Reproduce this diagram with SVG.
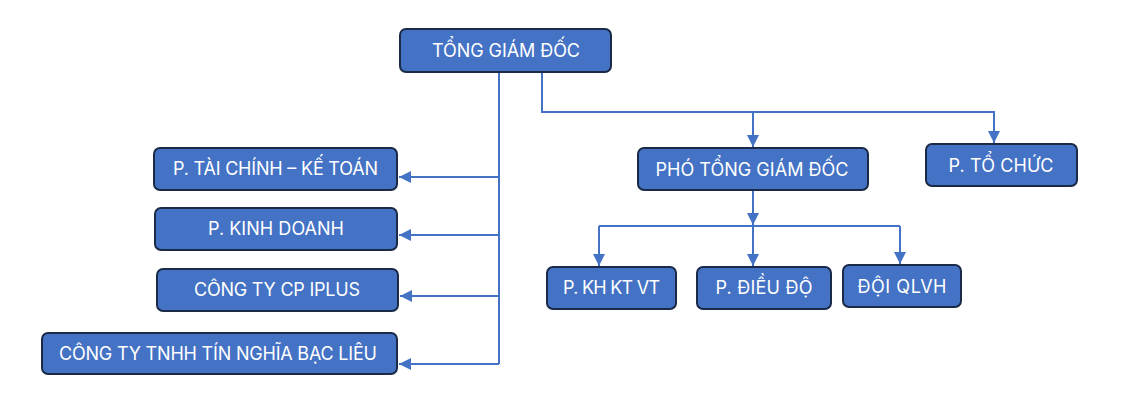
<svg xmlns="http://www.w3.org/2000/svg" width="1138" height="420" viewBox="0 0 1138 420">
<style>
.box{fill:#4472C4;stroke:#1B2A47;stroke-width:2}
.lbl{fill:#FFFFFF;font-family:Inter,"Noto Sans","Liberation Sans",sans-serif;font-size:18px;text-anchor:middle}
.ln{fill:none;stroke:#4472C4;stroke-width:2}
</style>
<defs>
<marker id="ah" markerUnits="userSpaceOnUse" markerWidth="12" markerHeight="12" viewBox="0 0 10 10" refX="10" refY="5" orient="auto">
<path d="M0,0 L10,5 L0,10 z" fill="#4472C4"/>
</marker>
</defs>
<rect width="1138" height="420" fill="#FFFFFF"/>
<g id="connectors">
<path class="ln" d="M499,72 V364"/>
<path class="ln" d="M499,177 H399" marker-end="url(#ah)"/>
<path class="ln" d="M499,235 H399" marker-end="url(#ah)"/>
<path class="ln" d="M499,296 H400" marker-end="url(#ah)"/>
<path class="ln" d="M499,364 H399" marker-end="url(#ah)"/>
<path class="ln" d="M542,72 V112 H994 V143" marker-end="url(#ah)"/>
<path class="ln" d="M753,112 V147" marker-end="url(#ah)"/>
<path class="ln" d="M753,190 V225" marker-end="url(#ah)"/>
<path class="ln" d="M599,226 H900"/>
<path class="ln" d="M599,226 V266" marker-end="url(#ah)"/>
<path class="ln" d="M753,226 V266" marker-end="url(#ah)"/>
<path class="ln" d="M900,226 V264" marker-end="url(#ah)"/>
</g>
<g id="tong-giam-doc">
<rect class="box" x="400" y="29" width="211" height="43" rx="6"/>
<text class="lbl" x="506" y="57" textLength="148">TỔNG GIÁM ĐỐC</text>
</g>
<g id="p-tai-chinh">
<rect class="box" x="154" y="148" width="243" height="42" rx="6"/>
<text class="lbl" x="275.5" y="175" textLength="205">P. TÀI CHÍNH – KẾ TOÁN</text>
</g>
<g id="p-kinh-doanh">
<rect class="box" x="155" y="208" width="242" height="42" rx="6"/>
<text class="lbl" x="276" y="235" textLength="136">P. KINH DOANH</text>
</g>
<g id="cong-ty-iplus">
<rect class="box" x="157" y="269" width="241" height="42" rx="6"/>
<text class="lbl" x="277" y="296" textLength="166">CÔNG TY CP IPLUS</text>
</g>
<g id="cong-ty-tin-nghia">
<rect class="box" x="42" y="333" width="355" height="41" rx="6"/>
<text class="lbl" x="218" y="360" textLength="318">CÔNG TY TNHH TÍN NGHĨA BẠC LIÊU</text>
</g>
<g id="pho-tong-giam-doc">
<rect class="box" x="638" y="148" width="230" height="42" rx="6"/>
<text class="lbl" x="752" y="176" textLength="193">PHÓ TỔNG GIÁM ĐỐC</text>
</g>
<g id="p-to-chuc">
<rect class="box" x="926" y="144" width="151" height="42" rx="6"/>
<text class="lbl" x="1001" y="172" textLength="105">P. TỔ CHỨC</text>
</g>
<g id="p-kh-kt-vt">
<rect class="box" x="547" y="267" width="129" height="42" rx="6"/>
<text class="lbl" x="611.5" y="294" textLength="97">P. KH KT VT</text>
</g>
<g id="p-dieu-do">
<rect class="box" x="697" y="267" width="134" height="42" rx="6"/>
<text class="lbl" x="764" y="294" textLength="97">P. ĐIỀU ĐỘ</text>
</g>
<g id="doi-qlvh">
<rect class="box" x="843" y="265" width="118" height="42" rx="6"/>
<text class="lbl" x="902" y="293" textLength="89">ĐỘI QLVH</text>
</g>
</svg>
